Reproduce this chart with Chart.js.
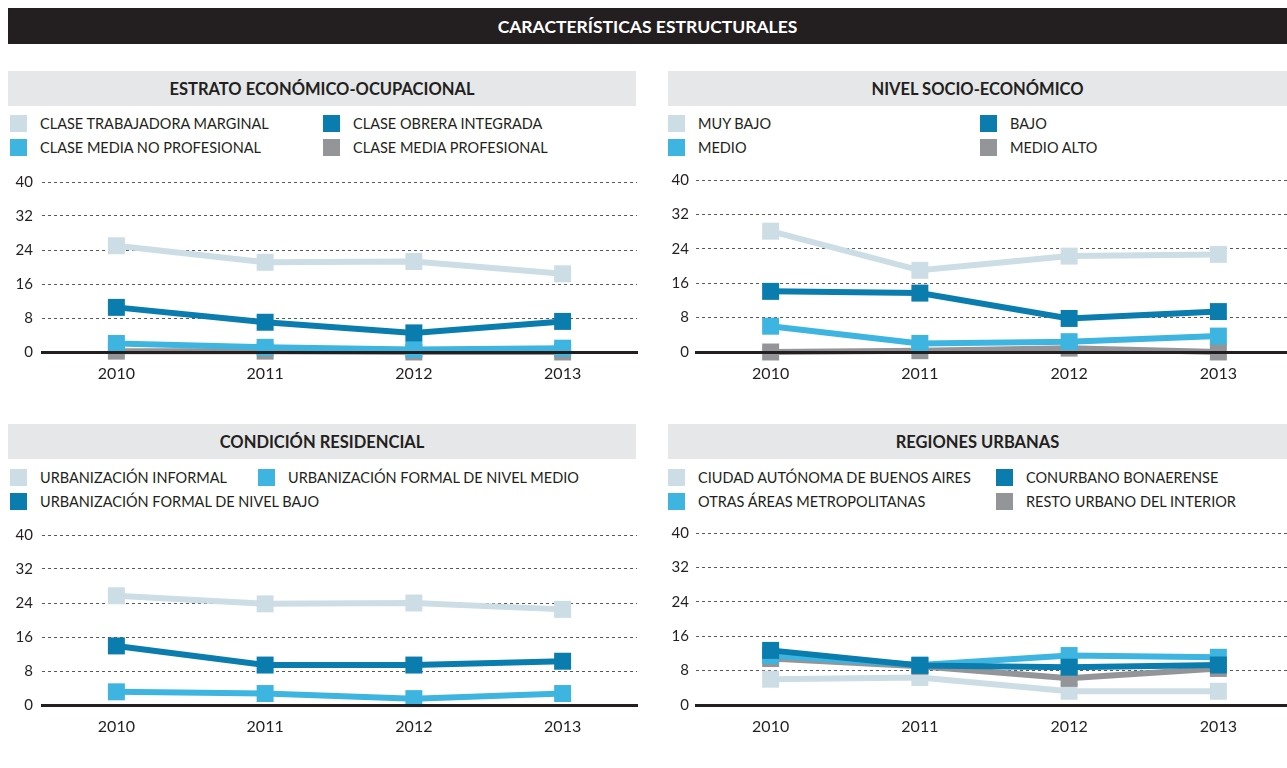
<!DOCTYPE html>
<html>
<head>
<meta charset="utf-8">
<script src="https://cdn.jsdelivr.net/npm/chart.js@4"></script>
<style>
  body { margin: 0; width: 1287px; height: 768px; overflow: hidden; background: #fff; font-family: Lato, sans-serif; color: #231f20; position: relative; }
  .bar { position: absolute; background: #231f20; color: #fff; font-weight: bold; font-size: 17.5px; text-align: center; }
  .title { position: absolute; background: #e6e7e8; font-weight: bold; font-size: 16.5px; text-align: center; }
  .leg { position: absolute; font-size: 14.5px; white-space: nowrap; line-height: 18px; }
  .sw { position: absolute; width: 17px; height: 17px; }
  .box { position: absolute; }
</style>
</head>
<body>
<div class="bar" style="left:8px;top:8px;width:1279px;height:36px;line-height:37px;">CARACTERÍSTICAS ESTRUCTURALES</div>

<div class="title" style="left:8px;top:71px;width:628px;height:35px;line-height:36px;">ESTRATO ECONÓMICO-OCUPACIONAL</div>
<div class="title" style="left:668px;top:71px;width:619px;height:35px;line-height:36px;">NIVEL SOCIO-ECONÓMICO</div>
<div class="title" style="left:8px;top:424px;width:628px;height:35px;line-height:36px;">CONDICIÓN RESIDENCIAL</div>
<div class="title" style="left:668px;top:424px;width:619px;height:35px;line-height:36px;">REGIONES URBANAS</div>

<div id="legends"></div>

<div class="box" style="left:8px;top:164px;width:641px;height:221px;"><canvas id="c1"></canvas></div>
<div class="box" style="left:668px;top:164px;width:637px;height:221px;"><canvas id="c2"></canvas></div>
<div class="box" style="left:8px;top:517px;width:641px;height:221px;"><canvas id="c3"></canvas></div>
<div class="box" style="left:668px;top:517px;width:637px;height:221px;"><canvas id="c4"></canvas></div>

<script>
// data
const years = ['2010', '2011', '2012', '2013'];
const yTicks = [0, 8, 16, 24, 32, 40];

// estrato económico-ocupacional
const claseTrabajadoraMarginal = [25.0, 21.1, 21.3, 18.4];
const claseObreraIntegrada = [10.5, 7.0, 4.5, 7.2];
const claseMediaNoProfesional = [2.0, 1.1, 0.6, 0.9];
const claseMediaProfesional = [0.2, 0.2, 0.0, 0.0];

// nivel socio-económico
const muyBajo = [28.1, 19.0, 22.3, 22.7];
const bajo = [14.1, 13.7, 7.8, 9.4];
const medio = [6.0, 2.0, 2.4, 3.7];
const medioAlto = [0.0, 0.3, 0.9, 0.0];

// condición residencial
const urbInformal = [25.7, 23.8, 24.0, 22.5];
const urbFormalBajo = [13.9, 9.4, 9.4, 10.3];
const urbFormalMedio = [3.1, 2.7, 1.5, 2.7];

// regiones urbanas
const caba = [6.0, 6.4, 3.2, 3.2];
const conurbano = [12.7, 9.2, 8.8, 9.3];
const otrasAreas = [11.5, 9.3, 11.5, 11.1];
const restoUrbano = [10.8, 9.0, 6.2, 8.5];

const LIGHT = '#cddde5';
const DARK = '#0a7dae';
const BLUE = '#3db5e0';
const GRAY = '#939598';

// legends
const legendItems = [
  [10, 115, LIGHT, 'CLASE TRABAJADORA MARGINAL'],
  [323, 115, DARK, 'CLASE OBRERA INTEGRADA'],
  [10, 139, BLUE, 'CLASE MEDIA NO PROFESIONAL'],
  [323, 139, GRAY, 'CLASE MEDIA PROFESIONAL'],
  [668, 115, LIGHT, 'MUY BAJO'],
  [980, 115, DARK, 'BAJO'],
  [668, 139, BLUE, 'MEDIO'],
  [980, 139, GRAY, 'MEDIO ALTO'],
  [10, 469, LIGHT, 'URBANIZACIÓN INFORMAL'],
  [258, 469, BLUE, 'URBANIZACIÓN FORMAL DE NIVEL MEDIO'],
  [10, 493, DARK, 'URBANIZACIÓN FORMAL DE NIVEL BAJO'],
  [668, 469, LIGHT, 'CIUDAD AUTÓNOMA DE BUENOS AIRES'],
  [996, 469, DARK, 'CONURBANO BONAERENSE'],
  [668, 493, BLUE, 'OTRAS ÁREAS METROPOLITANAS'],
  [996, 493, GRAY, 'RESTO URBANO DEL INTERIOR']
];
const legHost = document.getElementById('legends');
legendItems.forEach(([x, y, col, txt]) => {
  const sw = document.createElement('div');
  sw.className = 'sw';
  sw.style.left = x + 'px';
  sw.style.top = y + 'px';
  sw.style.background = col;
  legHost.appendChild(sw);
  const t = document.createElement('div');
  t.className = 'leg';
  t.style.left = (x + 30) + 'px';
  t.style.top = y + 'px';
  t.textContent = txt;
  legHost.appendChild(t);
});

function series(label, data, color, order) {
  return {
    label: label,
    data: data,
    borderColor: color,
    backgroundColor: color,
    borderWidth: 6,
    pointStyle: 'rect',
    pointRadius: 12,
    pointHoverRadius: 12,
    pointBorderWidth: 0,
    tension: 0,
    order: order,
    clip: false
  };
}

function makeChart(id, datasets, yWidth, yPad) {
  new Chart(document.getElementById(id), {
    type: 'line',
    data: { labels: years, datasets: datasets },
    options: {
      responsive: true,
      maintainAspectRatio: false,
      animation: false,
      layout: { padding: { top: 12, right: 0, bottom: 0, left: 0 } },
      plugins: { legend: { display: false }, tooltip: { enabled: false } },
      scales: {
        x: {
          offset: true,
          grid: { display: false },
          border: { display: true, color: '#231f20', width: 3, z: 1 },
          ticks: { color: '#231f20', font: { family: 'Lato', size: 16 }, padding: 4 },
          afterFit: (s) => { s.height = 33; }
        },
        y: {
          min: 0,
          max: 40,
          afterBuildTicks: (s) => { s.ticks = yTicks.map(v => ({ value: v })); },
          grid: { color: '#58595b', lineWidth: 1, drawTicks: false },
          border: { display: false, dash: [3, 3] },
          ticks: { color: '#231f20', font: { family: 'Lato', size: 15 }, padding: yPad },
          afterFit: (s) => { s.width = yWidth; }
        }
      }
    }
  });
}

makeChart('c1', [
  series('CLASE TRABAJADORA MARGINAL', claseTrabajadoraMarginal, LIGHT, 3),
  series('CLASE OBRERA INTEGRADA', claseObreraIntegrada, DARK, 0),
  series('CLASE MEDIA NO PROFESIONAL', claseMediaNoProfesional, BLUE, 1),
  series('CLASE MEDIA PROFESIONAL', claseMediaProfesional, GRAY, 2)
], 34, 9);

makeChart('c2', [
  series('MUY BAJO', muyBajo, LIGHT, 3),
  series('BAJO', bajo, DARK, 0),
  series('MEDIO', medio, BLUE, 1),
  series('MEDIO ALTO', medioAlto, GRAY, 2)
], 28, 7);

makeChart('c3', [
  series('URBANIZACIÓN INFORMAL', urbInformal, LIGHT, 2),
  series('URBANIZACIÓN FORMAL DE NIVEL MEDIO', urbFormalMedio, BLUE, 1),
  series('URBANIZACIÓN FORMAL DE NIVEL BAJO', urbFormalBajo, DARK, 0)
], 34, 9);

makeChart('c4', [
  series('CIUDAD AUTÓNOMA DE BUENOS AIRES', caba, LIGHT, 3),
  series('CONURBANO BONAERENSE', conurbano, DARK, 0),
  series('OTRAS ÁREAS METROPOLITANAS', otrasAreas, BLUE, 1),
  series('RESTO URBANO DEL INTERIOR', restoUrbano, GRAY, 2)
], 28, 7);
</script>
</body>
</html>
